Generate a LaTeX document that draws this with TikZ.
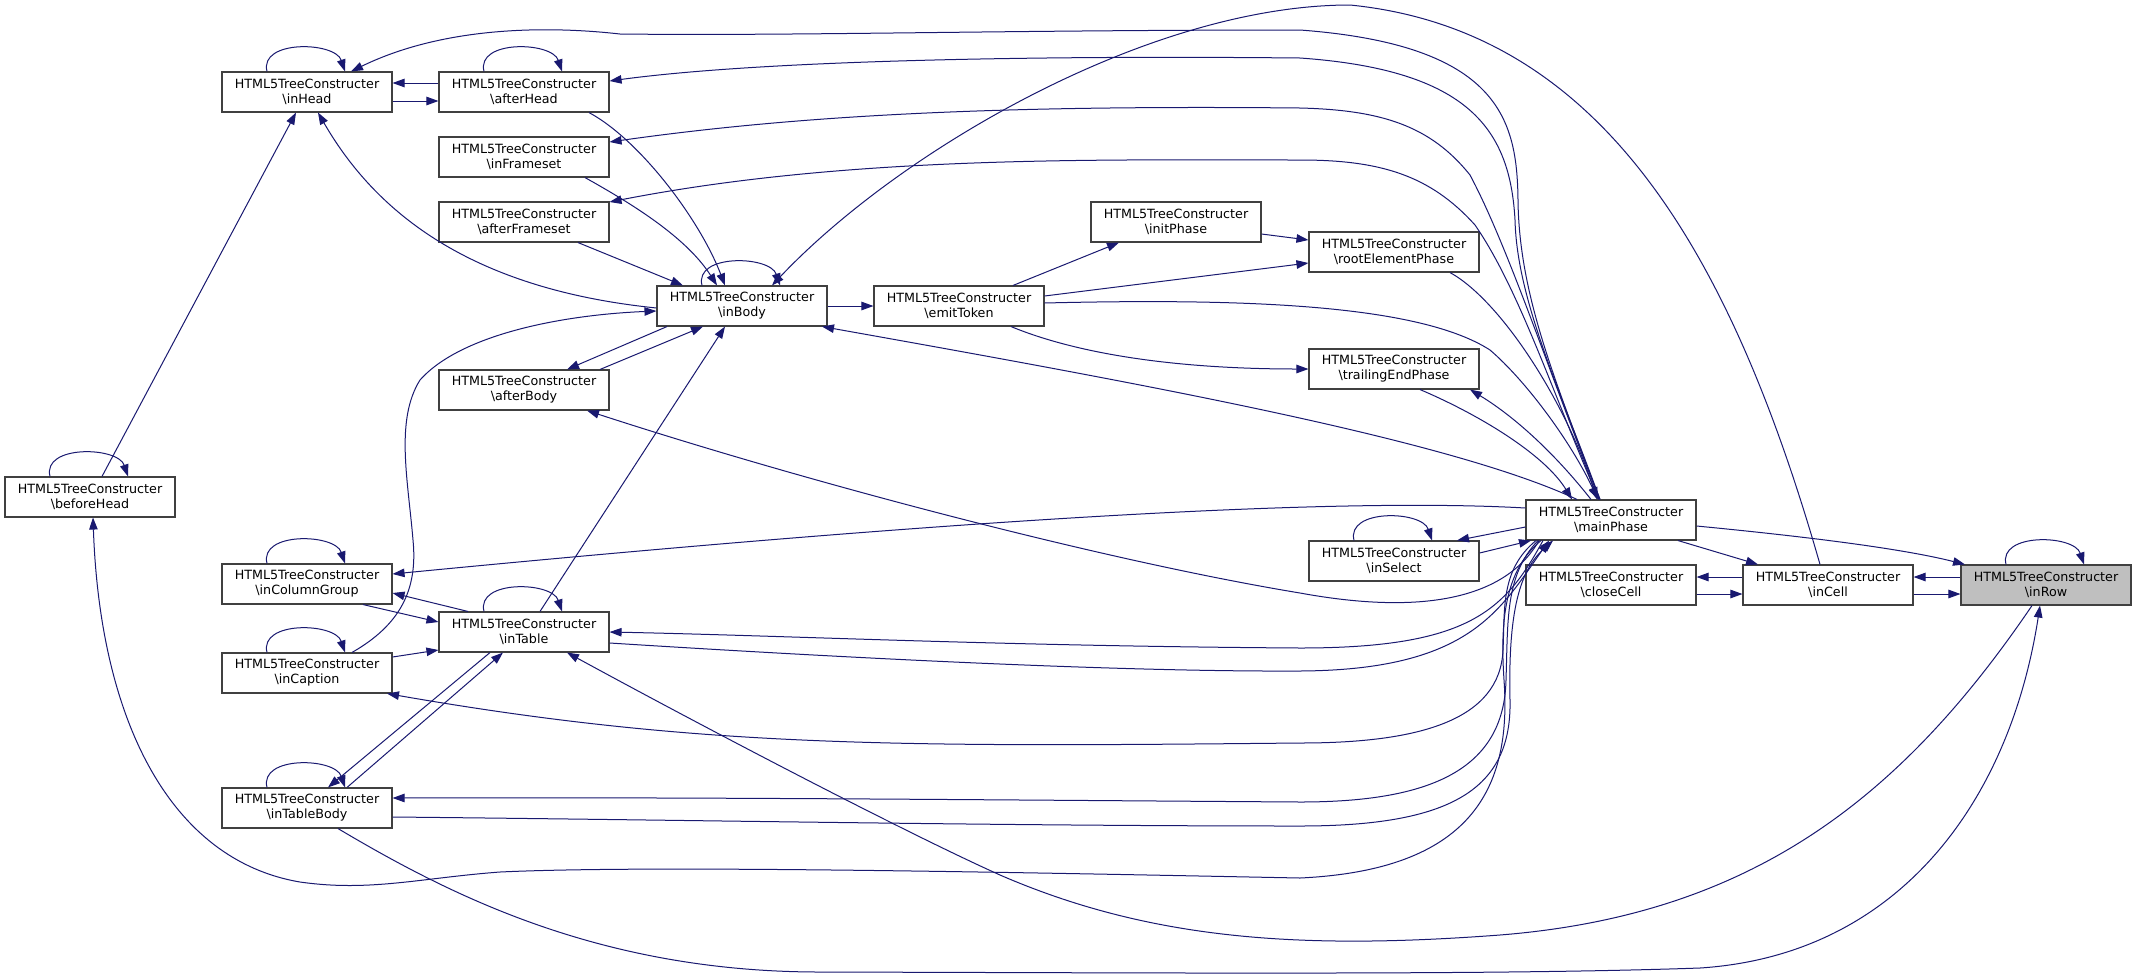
\documentclass[tikz,border=0pt]{standalone}
\usepackage{fontspec}
\setmainfont{DejaVu Sans}
\usetikzlibrary{arrows.meta}
\definecolor{edgeblue}{HTML}{191970}
\definecolor{focusgray}{HTML}{BFBFBF}
\newcommand{\myloop}[1]{\draw[edge] ([xshift=-40pt]#1.north) .. controls +(-8,-32) and +(-10,-30) .. ([xshift=38pt]#1.north);}
\begin{document}
\begin{tikzpicture}[x=1pt,y=-1pt,
  box/.style={draw=black!75, line width=1.1pt, fill=white, minimum width=170pt, minimum height=40pt, inner sep=0pt, align=center, font=\fontsize{12.7}{15}\selectfont},
  focus/.style={box, fill=focusgray},
  edge/.style={draw=edgeblue, line width=1pt, -{Triangle[length=12pt,width=8.5pt]}}]
\useasboundingbox[fill=white] (0,0) rectangle (2136,978);

\node[box] (inHead) at (307,92) {HTML5TreeConstructer\\\textbackslash inHead};
\node[box] (afterHead) at (524,92) {HTML5TreeConstructer\\\textbackslash afterHead};
\node[box] (inFrameset) at (524,157) {HTML5TreeConstructer\\\textbackslash inFrameset};
\node[box] (afterFrameset) at (524,222) {HTML5TreeConstructer\\\textbackslash afterFrameset};
\node[box] (inBody) at (742,306) {HTML5TreeConstructer\\\textbackslash inBody};
\node[box] (emitToken) at (959,306) {HTML5TreeConstructer\\\textbackslash emitToken};
\node[box] (initPhase) at (1176,222) {HTML5TreeConstructer\\\textbackslash initPhase};
\node[box] (rootElementPhase) at (1394,252) {HTML5TreeConstructer\\\textbackslash rootElementPhase};
\node[box] (trailingEndPhase) at (1394,369) {HTML5TreeConstructer\\\textbackslash trailingEndPhase};
\node[box] (afterBody) at (524,390) {HTML5TreeConstructer\\\textbackslash afterBody};
\node[box] (beforeHead) at (90,497) {HTML5TreeConstructer\\\textbackslash beforeHead};
\node[box] (inColumnGroup) at (307,584) {HTML5TreeConstructer\\\textbackslash inColumnGroup};
\node[box] (inTable) at (524,632) {HTML5TreeConstructer\\\textbackslash inTable};
\node[box] (inCaption) at (307,673) {HTML5TreeConstructer\\\textbackslash inCaption};
\node[box] (inTableBody) at (307,808) {HTML5TreeConstructer\\\textbackslash inTableBody};
\node[box] (mainPhase) at (1611,520) {HTML5TreeConstructer\\\textbackslash mainPhase};
\node[box] (inSelect) at (1394,561) {HTML5TreeConstructer\\\textbackslash inSelect};
\node[box] (closeCell) at (1611,585) {HTML5TreeConstructer\\\textbackslash closeCell};
\node[box] (inCell) at (1828,585) {HTML5TreeConstructer\\\textbackslash inCell};
\node[focus] (inRow) at (2046,585) {HTML5TreeConstructer\\\textbackslash inRow};

% self loops
\myloop{inHead}
\myloop{afterHead}
\myloop{beforeHead}
\myloop{inBody}
\myloop{inSelect}
\myloop{inRow}
\myloop{inColumnGroup}
\myloop{inCaption}
\myloop{inTable}
\myloop{inTableBody}

% head area
\draw[edge] ([yshift=9pt]afterHead.west) -- ([yshift=9pt]inHead.east);
\draw[edge] ([yshift=-9pt]inHead.east) -- ([yshift=-9pt]afterHead.west);
\draw[edge] ([xshift=12pt]beforeHead.north) -- ([xshift=-11pt]inHead.south);
\draw[edge] ([yshift=-2pt]inBody.west) .. controls (480,290) and (380,220) .. ([xshift=11pt]inHead.south);
\draw[edge] ([xshift=65pt]afterHead.south) .. controls (640,140) and (700,220) .. ([xshift=-17pt]inBody.north);
\draw[edge] ([xshift=61pt]inFrameset.south) .. controls (625,200) and (685,235) .. ([xshift=-25pt]inBody.north);
\draw[edge] ([xshift=54pt]afterFrameset.south) -- ([xshift=-59pt]inBody.north);
\draw[edge] ([xshift=-8pt]inCell.north) .. controls (1730,250) and (1600,30) .. (1350,5) .. controls (1150,5) and (900,150) .. ([xshift=30pt]inBody.north);

% emitToken area
\draw[edge] (inBody.east) -- (emitToken.west);
\draw[edge] ([xshift=54pt]emitToken.north) -- ([xshift=-57pt]initPhase.south);
\draw[edge] ([yshift=-12pt]initPhase.east) -- ([yshift=12pt]rootElementPhase.west);
\draw[edge] ([yshift=10pt]emitToken.east) -- ([yshift=-11pt]rootElementPhase.west);
\draw[edge] ([xshift=52pt]emitToken.south) .. controls (1080,355) and (1180,369) .. (trailingEndPhase.west);
\draw[edge] ([yshift=3pt]emitToken.east) .. controls (1250,298) and (1420,305) .. (1490,350) .. controls (1525,380) and (1570,440) .. ([xshift=-13pt]mainPhase.north);
\draw[edge] ([xshift=56pt]rootElementPhase.south) .. controls (1500,300) and (1565,400) .. ([xshift=-14pt]mainPhase.north);
\draw[edge] ([xshift=26pt]trailingEndPhase.south) .. controls (1480,415) and (1545,455) .. ([xshift=-39pt]mainPhase.north);
\draw[edge] ([xshift=-20pt]mainPhase.north) .. controls (1560,460) and (1520,420) .. ([xshift=76pt]trailingEndPhase.south);
\draw[edge] ([xshift=-34pt]mainPhase.north) .. controls (1450,440) and (1150,385) .. ([xshift=80pt]inBody.south);

% mainPhase to upper-left nodes
\draw[edge] ([xshift=-12pt]mainPhase.north) .. controls (1560,390) and (1519,300) .. (1518,200) .. controls (1517,120) and (1500,45) .. (1300,30) .. controls (1000,30) and (800,36) .. (620,34) .. controls (540,25) and (440,28) .. ([xshift=44pt]inHead.north);
\draw[edge] ([xshift=-11pt]mainPhase.north) .. controls (1560,390) and (1517,300) .. (1515,220) .. controls (1510,130) and (1470,70) .. (1300,58) .. controls (1000,55) and (750,62) .. ([yshift=11pt]afterHead.east);
\draw[edge] ([xshift=-11pt]mainPhase.north) .. controls (1555,390) and (1510,250) .. (1470,175) .. controls (1430,125) and (1380,110) .. (1300,108) .. controls (1000,105) and (800,115) .. ([yshift=15pt]inFrameset.east);
\draw[edge] ([xshift=-12pt]mainPhase.north) .. controls (1555,400) and (1520,290) .. (1475,225) .. controls (1430,175) and (1380,160) .. (1300,160) .. controls (1100,160) and (850,155) .. ([yshift=20pt]afterFrameset.east);

% mainPhase left side
\draw[edge] ([yshift=12pt]mainPhase.west) .. controls (1350,498) and (1000,515) .. ([yshift=10pt]inColumnGroup.east);
\draw[edge] ([yshift=-7pt]mainPhase.west) -- ([xshift=63pt]inSelect.north);
\draw[edge] ([yshift=8pt]inSelect.east) -- ([xshift=-80pt]mainPhase.south);
\draw[edge] ([xshift=-72pt]mainPhase.south) .. controls (1505,600) and (1420,615) .. (1300,593) .. controls (1100,560) and (800,480) .. ([xshift=63pt]afterBody.south);
\draw[edge] ([xshift=-68pt]mainPhase.south) .. controls (1505,610) and (1470,648) .. (1300,648) .. controls (1000,646) and (800,636) .. (inTable.east);
\draw[edge] ([yshift=-11pt]inTable.east) .. controls (800,655) and (1100,672) .. (1300,671) .. controls (1470,670) and (1500,610) .. ([xshift=-62pt]mainPhase.south);
\draw[edge] ([xshift=-75pt]mainPhase.south) .. controls (1500,570) and (1505,610) .. (1503,650) .. controls (1500,720) and (1420,743) .. (1300,743) .. controls (900,747) and (700,748) .. ([xshift=80pt]inCaption.south);
\draw[edge] ([xshift=-73pt]mainPhase.south) .. controls (1505,575) and (1508,620) .. (1506,680) .. controls (1504,770) and (1430,802) .. (1300,802) .. controls (1000,800) and (700,797) .. ([yshift=10pt]inTableBody.east);
\draw[edge] ([yshift=-9pt]inTableBody.east) .. controls (700,820) and (1000,826) .. (1300,826) .. controls (1450,826) and (1512,790) .. (1510,700) .. controls (1508,610) and (1520,570) .. ([xshift=-58pt]mainPhase.south);
\draw[edge] ([xshift=-70pt]mainPhase.south) .. controls (1505,570) and (1500,620) .. (1504,680) .. controls (1512,790) and (1470,870) .. (1300,878) .. controls (1000,872) and (650,865) .. (500,872) .. controls (420,878) and (370,892) .. (300,882) .. controls (170,860) and (100,720) .. ([xshift=3pt]beforeHead.south);

% right part
\draw[edge] ([xshift=67pt]mainPhase.south) -- ([xshift=-70pt]inCell.north);
\draw[edge] ([yshift=-6pt]mainPhase.east) .. controls (1800,536) and (1900,548) .. ([xshift=-81pt]inRow.north);
\draw[edge] ([yshift=8pt]inCell.west) -- ([yshift=8pt]closeCell.east);
\draw[edge] ([yshift=-9pt]closeCell.east) -- ([yshift=-9pt]inCell.west);
\draw[edge] ([yshift=8pt]inRow.west) -- ([yshift=8pt]inCell.east);
\draw[edge] ([yshift=-9pt]inCell.east) -- ([yshift=-9pt]inRow.west);
\draw[edge] ([xshift=-14pt]inRow.south) .. controls (1900,800) and (1750,915) .. (1500,935) .. controls (1300,950) and (1150,940) .. (1000,875) .. controls (900,830) and (700,725) .. ([xshift=43pt]inTable.south);
\draw[edge] ([xshift=31pt]inTableBody.south) .. controls (450,895) and (600,972) .. (820,972) .. controls (1200,973) and (1500,975) .. (1700,968) .. controls (1900,955) and (2010,800) .. ([xshift=-6pt]inRow.south);

% table cluster
\draw[edge] ([xshift=-56pt]inTable.north) -- ([yshift=-9pt]inColumnGroup.east);
\draw[edge] ([xshift=56pt]inColumnGroup.south) -- ([yshift=10pt]inTable.west);
\draw[edge] ([yshift=16pt]inCaption.east) -- ([yshift=-18pt]inTable.west);
\draw[edge] ([xshift=45pt]inCaption.north) .. controls (400,625) and (418,590) .. (413,540) .. controls (408,480) and (395,420) .. (420,380) .. controls (460,335) and (560,315) .. ([yshift=-5pt]inBody.west);
\draw[edge] ([xshift=-75pt]inBody.south) -- ([xshift=43pt]afterBody.north);
\draw[edge] ([xshift=76pt]afterBody.north) -- ([xshift=-39pt]inBody.south);
\draw[edge] ([xshift=16pt]inTable.north) -- ([xshift=-17pt]inBody.south);
\draw[edge] ([xshift=-34pt]inTable.south) -- ([xshift=21pt]inTableBody.north);
\draw[edge] ([xshift=40pt]inTableBody.north) -- ([xshift=-21pt]inTable.south);
\end{tikzpicture}
\end{document}
